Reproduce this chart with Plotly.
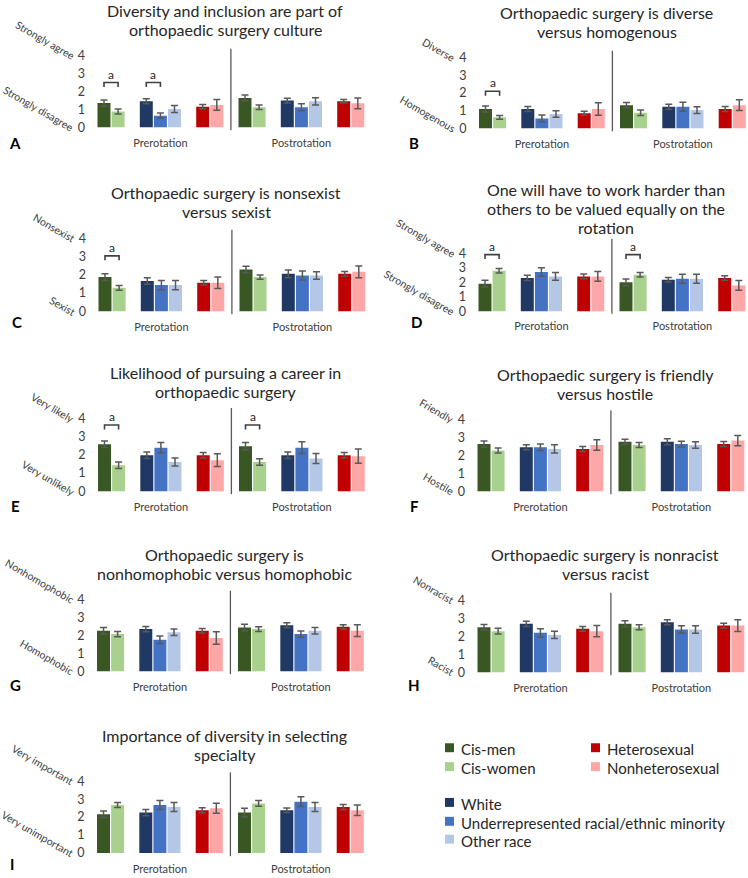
import plotly.graph_objects as go

W, H = 748, 878
FONT = "Lato, Carlito, Calibri, sans-serif"

# ---------------- data ----------------
series_names = ["Cis-men", "Cis-women", "White",
                "Underrepresented racial/ethnic minority", "Other race",
                "Heterosexual", "Nonheterosexual"]
series_colors = ["#385723", "#A9D18E", "#203864", "#4472C4", "#B4C7E7",
                 "#C00000", "#FFA7A7"]
period_labels = ["Prerotation", "Postrotation"]
y_ticks = [0, 1, 2, 3, 4]

# means / SE: first 7 = Prerotation, last 7 = Postrotation (series order above)
A_means = [1.35, 0.88, 1.45, 0.65, 1.02, 1.15, 1.25, 1.64, 1.12, 1.49, 1.12, 1.45, 1.45, 1.34]
A_errs = [0.18, 0.14, 0.14, 0.15, 0.19, 0.12, 0.30, 0.16, 0.12, 0.13, 0.20, 0.20, 0.10, 0.30]
B_means = [1.09, 0.62, 1.09, 0.56, 0.81, 0.85, 1.09, 1.31, 0.88, 1.22, 1.22, 1.03, 1.09, 1.31]
B_errs = [0.17, 0.11, 0.14, 0.19, 0.19, 0.11, 0.35, 0.15, 0.16, 0.14, 0.26, 0.19, 0.14, 0.30]
C_means = [1.88, 1.29, 1.66, 1.44, 1.44, 1.57, 1.57, 2.30, 1.88, 2.06, 1.97, 1.97, 2.06, 2.17]
C_errs = [0.18, 0.13, 0.18, 0.25, 0.25, 0.13, 0.32, 0.18, 0.12, 0.21, 0.25, 0.21, 0.13, 0.32]
D_means = [1.90, 2.79, 2.29, 2.70, 2.40, 2.40, 2.40, 1.99, 2.51, 2.17, 2.24, 2.24, 2.29, 1.78]
D_errs = [0.23, 0.15, 0.18, 0.29, 0.27, 0.16, 0.34, 0.23, 0.16, 0.16, 0.31, 0.31, 0.16, 0.33]
E_means = [2.59, 1.43, 1.98, 2.40, 1.61, 1.98, 1.71, 2.48, 1.61, 1.98, 2.40, 1.80, 1.98, 1.93]
E_errs = [0.18, 0.18, 0.18, 0.28, 0.22, 0.15, 0.35, 0.21, 0.18, 0.18, 0.32, 0.28, 0.15, 0.39]
F_means = [2.62, 2.26, 2.44, 2.44, 2.35, 2.35, 2.57, 2.75, 2.57, 2.75, 2.62, 2.57, 2.62, 2.81]
F_errs = [0.17, 0.14, 0.14, 0.18, 0.23, 0.14, 0.29, 0.14, 0.14, 0.17, 0.16, 0.18, 0.14, 0.28]
G_means = [2.26, 2.07, 2.35, 1.76, 2.17, 2.26, 1.85, 2.44, 2.35, 2.57, 2.07, 2.26, 2.48, 2.26]
G_errs = [0.18, 0.15, 0.15, 0.21, 0.18, 0.13, 0.35, 0.18, 0.13, 0.14, 0.18, 0.18, 0.12, 0.33]
H_means = [2.51, 2.29, 2.70, 2.20, 2.08, 2.42, 2.29, 2.70, 2.51, 2.79, 2.38, 2.38, 2.60, 2.60]
H_errs = [0.15, 0.16, 0.15, 0.23, 0.20, 0.13, 0.31, 0.17, 0.14, 0.14, 0.21, 0.21, 0.13, 0.33]
I_means = [2.16, 2.67, 2.25, 2.67, 2.56, 2.38, 2.49, 2.25, 2.76, 2.38, 2.86, 2.56, 2.56, 2.38]
I_errs = [0.18, 0.14, 0.18, 0.25, 0.25, 0.14, 0.28, 0.24, 0.16, 0.12, 0.27, 0.25, 0.14, 0.29]

# significance brackets: (first series, second series, period index, bracket height)
A_sig = [(0, 1, 0, 2.5), (2, 3, 0, 2.5)]
B_sig = [(0, 1, 0, 2.1)]
C_sig = [(0, 1, 0, 3.05)]
D_sig = [(0, 1, 0, 3.9), (0, 1, 1, 3.9)]
E_sig = [(0, 1, 0, 3.65), (0, 1, 1, 3.65)]

titles = {
    "A": ["Diversity and inclusion are part of", "orthopaedic surgery culture"],
    "B": ["Orthopaedic surgery is diverse", "versus homogenous"],
    "C": ["Orthopaedic surgery is nonsexist", "versus sexist"],
    "D": ["One will have to work harder than", "others to be valued equally on the", "rotation"],
    "E": ["Likelihood of pursuing a career in", "orthopaedic surgery"],
    "F": ["Orthopaedic surgery is friendly", "versus hostile"],
    "G": ["Orthopaedic surgery is", "nonhomophobic versus homophobic"],
    "H": ["Orthopaedic surgery is nonracist", "versus racist"],
    "I": ["Importance of diversity in selecting", "specialty"],
}
scale_labels = {
    "A": ("Strongly agree", "Strongly disagree"),
    "B": ("Diverse", "Homogenous"),
    "C": ("Nonsexist", "Sexist"),
    "D": ("Strongly agree", "Strongly disagree"),
    "E": ("Very likely", "Very unlikely"),
    "F": ("Friendly", "Hostile"),
    "G": ("Nonhomophobic", "Homophobic"),
    "H": ("Nonracist", "Racist"),
    "I": ("Very important", "Very unimportant"),
}
panel_data = {
    "A": (A_means, A_errs, A_sig), "B": (B_means, B_errs, B_sig),
    "C": (C_means, C_errs, C_sig), "D": (D_means, D_errs, D_sig),
    "E": (E_means, E_errs, E_sig), "F": (F_means, F_errs, []),
    "G": (G_means, G_errs, []), "H": (H_means, H_errs, []),
    "I": (I_means, I_errs, []),
}

# ---------------- layout geometry (pixels) ----------------
slot = [0, 1, 3, 4, 5, 7, 8]      # bar slots inside a period
period_shift = 10                  # slots between the two periods
divider_x = 9
XR = [-1, 18.6]
PITCH = 14.1
# key: (x0 px of first bar centre, y0 px of value 0, px per unit, top of y range,
#       first title line y px, title line spacing, letter x, letter y)
geom = {
    "A": (104, 127, 18.0, 4.4, 10, 19, 15, 143),
    "B": (485.5, 128, 17.75, 4.4, 12, 19, 414, 143),
    "C": (105, 312, 18.25, 4.5, 193, 19, 17, 323),
    "D": (485, 312, 14.6, 5.0, 190, 19, 416, 323),
    "E": (104.5, 493, 18.25, 4.6, 374, 19, 16, 508),
    "F": (484, 493, 18.1, 4.5, 376, 19, 414, 508),
    "G": (103.5, 674, 18.0, 4.5, 557, 19, 16, 688),
    "H": (484, 675, 18.0, 4.45, 557, 19, 414, 688),
    "I": (103.5, 857, 18.1, 4.5, 739, 19, 12, 868),
}
YMIN = -0.2

fig = go.Figure()
shapes, annotations = [], []
layout_axes = {}
TXT = "#404040"

for n, key in enumerate("ABCDEFGHI", start=1):
    means, errs, sig = panel_data[key]
    x0px, py0, ppu, ytop, ty, tsp, lx, ly = geom[key]
    sfx = "" if n == 1 else str(n)
    xref, yref = "x" + sfx, "y" + sfx
    left_px = x0px - (0 - XR[0]) * PITCH
    right_px = min(left_px + (XR[1] - XR[0]) * PITCH, W)
    bot_px = py0 - YMIN * ppu
    top_px = py0 - ytop * ppu

    for s in range(7):
        fig.add_trace(go.Bar(
            x=[slot[s], slot[s] + period_shift],
            y=[means[s], means[s + 7]],
            width=0.92,
            marker=dict(color=series_colors[s], line=dict(width=0)),
            error_y=dict(type="data", array=[errs[s], errs[s + 7]],
                         color="#595959", thickness=1.5, width=3.5),
            name=series_names[s], showlegend=False,
            xaxis=xref, yaxis=yref,
        ))

    layout_axes["xaxis" + sfx] = dict(
        domain=[left_px / W, right_px / W], range=XR, anchor=yref,
        tickvals=[slot[3], slot[3] + period_shift], ticktext=period_labels,
        showgrid=False, zeroline=False, showline=False, ticks="",
        tickfont=dict(size=11, color=TXT, family=FONT), ticklabelstandoff=4,
        fixedrange=True,
    )
    layout_axes["yaxis" + sfx] = dict(
        domain=[1 - bot_px / H, 1 - top_px / H], range=[YMIN, ytop], anchor=xref,
        tickvals=y_ticks, showgrid=False, zeroline=False, showline=False, ticks="",
        tickfont=dict(size=12.5, color=TXT, family=FONT), ticklabelstandoff=4,
        fixedrange=True,
    )

    # divider between periods
    shapes.append(dict(type="line", xref=xref, yref=yref, x0=divider_x, x1=divider_x,
                       y0=-0.17, y1=ytop, line=dict(color="#595959", width=1.3)))

    # significance brackets
    for a, b, p, hy in sig:
        xa = slot[a] + p * period_shift
        xb = slot[b] + p * period_shift
        d = 4.5 / ppu
        shapes.append(dict(type="path", xref=xref, yref=yref,
                           path=f"M {xa},{hy - d} L {xa},{hy} L {xb},{hy} L {xb},{hy - d}",
                           line=dict(color="#404040", width=1.6)))
        annotations.append(dict(x=(xa + xb) / 2, y=hy, xref=xref, yref=yref, text="a",
                                showarrow=False, yanchor="bottom", yshift=-1,
                                font=dict(size=12, color="#262626", family=FONT)))

    # title (one annotation per line)
    for i, line in enumerate(titles[key]):
        annotations.append(dict(x=8.6, y=1 - (ty + i * tsp) / H, xref=xref, yref="paper",
                                text=line, showarrow=False, xanchor="center",
                                yanchor="middle", align="center",
                                font=dict(size=16, color="#262626", family=FONT)))
    # rotated scale labels
    top_lab, bot_lab = scale_labels[key]
    for lab, yv in ((top_lab, 4), (bot_lab, 0)):
        annotations.append(dict(x=(left_px - 11) / W, y=yv, xref="paper", yref=yref,
                                text=lab, showarrow=False, textangle=30,
                                xanchor="right", yanchor="bottom", yshift=-9,
                                font=dict(size=10.5, color=TXT, family=FONT)))
    # panel letter
    annotations.append(dict(x=lx / W, y=1 - ly / H, xref="paper", yref="paper",
                            text=f"<b>{key}</b>", showarrow=False,
                            xanchor="center", yanchor="middle",
                            font=dict(size=15, color="#000000", family=FONT)))

# ---------------- legend (swatches + labels) ----------------
legend_pos = {0: (445, 751), 1: (445, 770), 5: (591, 751), 6: (591, 770),
              2: (445, 806), 3: (445, 825), 4: (445, 843)}
for s, (sx, sy) in legend_pos.items():
    shapes.append(dict(type="rect", xref="paper", yref="paper",
                       x0=sx / W, x1=(sx + 9) / W, y0=1 - (sy + 4.5) / H, y1=1 - (sy - 4.5) / H,
                       fillcolor=series_colors[s], line=dict(width=0)))
    annotations.append(dict(x=(sx + 14) / W, y=1 - (sy + 1.5) / H, xref="paper", yref="paper",
                            text=series_names[s], showarrow=False,
                            xanchor="left", yanchor="middle",
                            font=dict(size=15, color="#262626", family=FONT)))

fig.update_layout(
    width=W, height=H, margin=dict(l=0, r=0, t=0, b=0),
    paper_bgcolor="white", plot_bgcolor="white",
    barmode="overlay", showlegend=False,
    shapes=shapes, annotations=annotations,
    font=dict(family=FONT, color=TXT),
    **layout_axes,
)

fig.write_html("out.html", config={"displayModeBar": False},
               post_script="document.body.style.margin='0';document.body.style.overflow='hidden';")
